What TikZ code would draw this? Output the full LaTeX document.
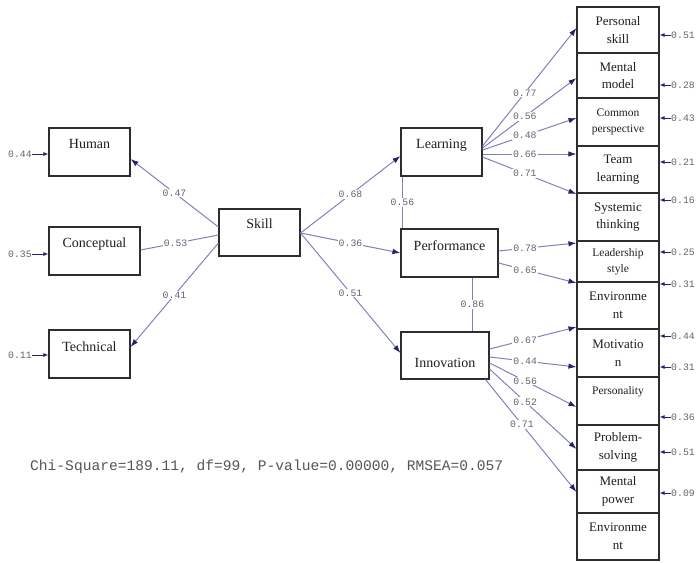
\documentclass[tikz,border=0pt]{standalone}
\usepackage{fontspec}
\setmainfont{Liberation Serif}
\newfontfamily\monof{Liberation Mono}
\usetikzlibrary{arrows.meta,calc}
\definecolor{edgec}{RGB}{128,128,190}
\definecolor{tipc}{RGB}{35,35,110}
\definecolor{numc}{RGB}{100,100,112}
\definecolor{boxc}{RGB}{45,45,45}
\definecolor{txtc}{RGB}{30,30,30}
\definecolor{chic}{RGB}{85,85,85}
\begin{document}
\begin{tikzpicture}[x=1pt,y=-1pt,
  box/.style={draw=boxc,line width=1.1pt,inner sep=0pt,rectangle},
  btxt/.style={font=\fontsize{14}{16}\selectfont,text=txtc,inner sep=0pt},
  rbox/.style={box,minimum width=82pt,align=center,text=txtc,font=\fontsize{13}{17.5}\selectfont},
  rsmall/.style={font=\fontsize{11.5}{16}\selectfont},
  num/.style={font=\monof\fontsize{9.8}{10}\selectfont,text=numc,fill=white,inner sep=1pt},
  enum/.style={font=\monof\fontsize{9.8}{10}\selectfont,text=numc,inner sep=0.5pt},
  conn/.style={draw=edgec,line width=1pt,-{Latex[length=8pt,width=5.5pt,color=tipc]}},
  plainln/.style={draw=edgec,line width=1pt},
  err/.style={draw=tipc,line width=1pt,-{Latex[length=5pt,width=4pt]}}]
\useasboundingbox (0,0) rectangle (698,562);

% left boxes
\node[box,minimum width=81pt,minimum height=48pt] (hum) at (89.5,152) {};
\node[btxt] (humt) at (89.5,144) {Human};
\node[box,minimum width=91pt,minimum height=48pt] (conc) at (94.5,251) {};
\node[btxt] (conct) at (94.5,244) {Conceptual};
\node[box,minimum width=81pt,minimum height=48pt] (tech) at (89.5,354) {};
\node[btxt] (techt) at (89.5,347) {Technical};
\node[box,minimum width=81pt,minimum height=47pt] (skill) at (259.5,232.5) {};
\node[btxt] (skillt) at (259.5,224) {Skill};

% middle boxes
\node[box,minimum width=81pt,minimum height=48pt] (learn) at (441.5,152) {};
\node[btxt] (learnt) at (441.5,145) {Learning};
\node[box,minimum width=97pt,minimum height=48pt] (perf) at (449.5,253) {};
\node[btxt] (perft) at (449.5,246) {Performance};
\node[box,minimum width=88pt,minimum height=47pt] (innov) at (445,355.5) {};
\node[btxt] (innovt) at (445,363) {Innovation};

% right column
\node[rbox,minimum height=46pt] (r1) at (618,30) {Personal\\skill};
\node[rbox,minimum height=45pt] (r2) at (618,75.5) {Mental\\model};
\node[rbox,rsmall,minimum height=48pt] (r3) at (618,122) {Common\\perspective};
\node[rbox,minimum height=47pt] (r4) at (618,169.5) {Team\\learning};
\node[rbox,minimum height=48pt] (r5) at (618,217) {Systemic\\thinking};
\node[rbox,rsmall,minimum height=41pt] (r6) at (618,261.5) {Leadership\\style};
\node[rbox,minimum height=47pt] (r7) at (618,305.5) {Environme\\nt};
\node[rbox,minimum height=48pt] (r8) at (618,353) {Motivatio\\n};
\node[rbox,minimum height=48pt] (r9) at (618,401) {};
\node[btxt,font=\fontsize{11.5}{14}\selectfont] (r9t) at (618,392) {Personality};
\node[rbox,minimum height=45pt] (r10) at (618,447.5) {Problem-\\solving};
\node[rbox,minimum height=43pt] (r11) at (618,491.5) {Mental\\power};
\node[rbox,minimum height=47pt] (r12) at (618,536.5) {Environme\\nt};

% skill to indicators
\draw[conn] ($(skill.west)+(0,-5.5)$) -- node[num]{0.47} ($(hum.east)+(0,7)$);
\draw[plainln] ($(skill.west)+(0,2.5)$) -- node[num,pos=0.55]{0.53} ($(conc.east)+(0,-1)$);
\draw[conn] ($(skill.west)+(0,10.5)$) -- node[num]{0.41} ($(tech.east)+(0,-7)$);

% skill to latent
\draw[conn] ($(skill.east)+(0,0.5)$) -- node[num]{0.68} ($(learn.west)+(0,4)$);
\draw[conn] ($(skill.east)+(0,0.5)$) -- node[num]{0.36} (perf.west);
\draw[conn] ($(skill.east)+(0,0.5)$) -- node[num]{0.51} ($(innov.west)+(0,-2.5)$);

% correlations
\draw[plainln] ($(learn.south west)+(2,0)$) -- node[num]{0.56} ($(perf.north west)+(2,0)$);
\draw[plainln] ($(perf.south west)+(72,0)$) -- node[num]{0.86} ($(innov.north west)+(72,0)$);

% learning
\draw[conn] ($(learn.east)+(0,-6)$) -- node[num,pos=0.45]{0.77} ($(r1.west)+(0,-2)$);
\draw[conn] ($(learn.east)+(0,-4)$) -- node[num,pos=0.45]{0.56} ($(r2.west)+(0,2.5)$);
\draw[conn] ($(learn.east)+(0,-2)$) -- node[num,pos=0.45]{0.48} ($(r3.west)+(0,-4)$);
\draw[conn] ($(learn.east)+(0,2)$) -- node[num,pos=0.45]{0.66} ($(r4.west)+(0,-15.5)$);
\draw[conn] ($(learn.east)+(0,5)$) -- node[num,pos=0.45]{0.71} ($(r5.west)+(0,-23)$);

% performance
\draw[conn] ($(perf.east)+(0,-2)$) -- node[num,pos=0.34]{0.78} ($(r6.west)+(0,-18.5)$);
\draw[conn] ($(perf.east)+(0,10)$) -- node[num,pos=0.34]{0.65} ($(r7.west)+(0,-22.5)$);

% innovation
\draw[conn] ($(innov.east)+(0,-6.5)$) -- node[num,pos=0.41]{0.67} ($(r8.west)+(0,-26)$);
\draw[conn] ($(innov.east)+(0,1.5)$) -- node[num,pos=0.41]{0.44} ($(r8.west)+(0,14)$);
\draw[conn] ($(innov.east)+(0,7.5)$) -- node[num,pos=0.41]{0.56} ($(r9.west)+(0,6)$);
\draw[conn] ($(innov.east)+(0,13.5)$) -- node[num,pos=0.41]{0.52} ($(r10.west)+(0,1.5)$);
\draw[conn] ($(innov.south east)+(-4,0)$) -- node[num,pos=0.4]{0.71} ($(r11.west)+(0,0.5)$);

% left errors
\node[enum] (ea) at (20,154) {0.44};
\draw[err] (ea.east) -- (ea.east -| hum.west);
\node[enum] (eb) at (20,254) {0.35};
\draw[err] (eb.east) -- (eb.east -| conc.west);
\node[enum] (ec) at (20,355) {0.11};
\draw[err] (ec.east) -- (ec.east -| tech.west);

% right errors
\foreach \n/\yy/\v in {1/35/0.51,2/85/0.28,3/118/0.43,4/162/0.21,5/200/0.16,6/252/0.25,7/284/0.31,8/336/0.44,9/367/0.31,10/417/0.36,11/452/0.51,12/493/0.09}{
  \node[enum] (f\n) at (683,\yy) {\v};
  \draw[err] (f\n.west) -- (f\n.west -| r1.east);
}

\node[anchor=west,font=\monof\fontsize{14.6}{16}\selectfont,text=chic,inner sep=0pt] (chi) at (30,467) {Chi-Square=189.11, df=99, P-value=0.00000, RMSEA=0.057};
\end{tikzpicture}
\end{document}
